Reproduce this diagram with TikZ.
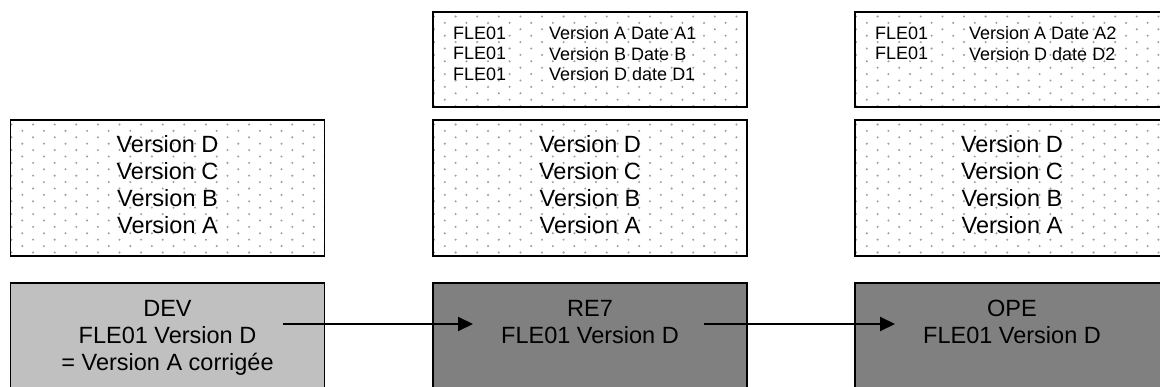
\documentclass[tikz,border=0pt]{standalone}
\usepackage{fontspec}
\setmainfont{Liberation Sans}
\usetikzlibrary{arrows.meta,calc}
\definecolor{dotgray}{HTML}{A0A0A0}
\definecolor{devgray}{HTML}{C0C0C0}
\definecolor{envgray}{HTML}{808080}
\begin{document}
\begin{tikzpicture}[x=1pt,y=-1pt,
  box/.style={draw, line width=1.8pt, minimum width=314pt, inner sep=0pt},
  dotbox/.style={box, fill=white, path picture={
      \foreach \r in {0,...,22} {
        \foreach \c in {0,...,15} {
          \fill[dotgray] ($(path picture bounding box.north west)+({\c*21.6+1+mod(\r,2)*10.8},{\r*6.4+4.5})$) circle (1.15);
        }
      }
    }},
  big/.style={font=\fontsize{23.5}{27}\selectfont, align=center, inner sep=0pt, anchor=north},
  small/.style={font=\fontsize{18}{20.5}\selectfont, align=left, inner sep=0pt, anchor=north west},
  arr/.style={line width=2pt, -{Triangle[length=15pt,width=14pt]}}]
\useasboundingbox (0,0) rectangle (1160,387);

% top boxes
\node[dotbox, minimum height=95pt] (tm) at (590,59.5) {};
\node[dotbox, minimum height=95pt] (tr) at (1012,59.5) {};
% middle boxes
\node[dotbox, minimum height=136pt] (ml) at (167.5,188) {};
\node[dotbox, minimum height=136pt] (mm) at (590,188) {};
\node[dotbox, minimum height=136pt] (mr) at (1012,188) {};
% bottom boxes
\node[box, fill=devgray, minimum height=117pt] (dev) at (167.5,341.5) {};
\node[box, fill=envgray, minimum height=117pt] (re7) at (590,341.5) {};
\node[box, fill=envgray, minimum height=117pt] (ope) at (1012,341.5) {};

% top texts
\node[small] (tmA) at (453,26.5) {FLE01\\FLE01\\FLE01};
\node[small] (tmB) at (549,26.5) {Version A Date A1\\Version B Date B\\Version D date D1};
\node[small] (trA) at (875,26.5) {FLE01\\FLE01};
\node[small] (trB) at (969,26.5) {Version A Date A2\\Version D date D2};

% middle texts
\node[big] (mlt) at (167.5,135) {Version D\\Version C\\Version B\\Version A};
\node[big] (mmt) at (590,135) {Version D\\Version C\\Version B\\Version A};
\node[big] (mrt) at (1012,135) {Version D\\Version C\\Version B\\Version A};

% bottom texts
\node[big] (devt) at (167.5,300) {DEV\\FLE01 Version D\\= Version A corrigée};
\node[big] (re7t) at (590,300) {RE7\\FLE01 Version D};
\node[big] (opet) at (1012,300) {OPE\\FLE01 Version D};

% arrows
\coordinate (a1s) at (283,324);
\coordinate (a1e) at (473,324);
\coordinate (a2s) at (704,324);
\coordinate (a2e) at (895,324);
\draw[arr] (a1s) -- (a1e);
\draw[arr] (a2s) -- (a2e);
\end{tikzpicture}
\end{document}
